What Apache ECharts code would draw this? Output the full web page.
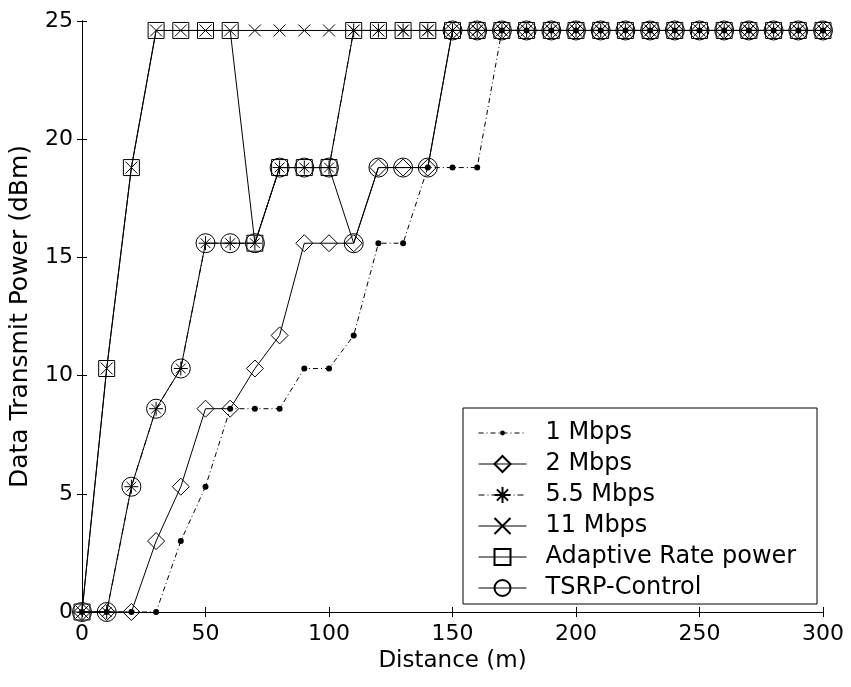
<!DOCTYPE html>
<html>
<head>
<meta charset="utf-8">
<script src="https://cdn.jsdelivr.net/npm/echarts@6/dist/echarts.min.js"></script>
<style>
  html, body { margin: 0; padding: 0; background: #fff; }
  #chart { width: 851px; height: 687px; }
</style>
</head>
<body>
<div id="chart"></div>
<script>
// Distance from the sender (m)
const distance = [0, 10, 20, 30, 40, 50, 60, 70, 80, 90, 100, 110, 120, 130, 140, 150,
                  160, 170, 180, 190, 200, 210, 220, 230, 240, 250, 260, 270, 280, 290, 300];

// Data transmit power (dBm) per scheme
const rate1 = [0, 0, 0, 0, 3.0, 5.3, 8.6, 8.6, 8.6, 10.3, 10.3, 11.7, 15.6, 15.6, 18.8, 18.8,
               18.8, 24.6, 24.6, 24.6, 24.6, 24.6, 24.6, 24.6, 24.6, 24.6, 24.6, 24.6, 24.6, 24.6, 24.6];
const rate2 = [0, 0, 0, 3.0, 5.3, 8.6, 8.6, 10.3, 11.7, 15.6, 15.6, 15.6, 18.8, 18.8, 18.8, 24.6,
               24.6, 24.6, 24.6, 24.6, 24.6, 24.6, 24.6, 24.6, 24.6, 24.6, 24.6, 24.6, 24.6, 24.6, 24.6];
const rate55 = [0, 0, 5.3, 8.6, 10.3, 15.6, 15.6, 15.6, 18.8, 18.8, 18.8, 24.6, 24.6, 24.6, 24.6, 24.6,
                24.6, 24.6, 24.6, 24.6, 24.6, 24.6, 24.6, 24.6, 24.6, 24.6, 24.6, 24.6, 24.6, 24.6, 24.6];
const rate11 = [0, 10.3, 18.8, 24.6, 24.6, 24.6, 24.6, 24.6, 24.6, 24.6, 24.6, 24.6, 24.6, 24.6, 24.6, 24.6,
                24.6, 24.6, 24.6, 24.6, 24.6, 24.6, 24.6, 24.6, 24.6, 24.6, 24.6, 24.6, 24.6, 24.6, 24.6];
const adaptive = [0, 10.3, 18.8, 24.6, 24.6, 24.6, 24.6, 15.6, 18.8, 18.8, 18.8, 24.6, 24.6, 24.6, 24.6, 24.6,
                  24.6, 24.6, 24.6, 24.6, 24.6, 24.6, 24.6, 24.6, 24.6, 24.6, 24.6, 24.6, 24.6, 24.6, 24.6];
const tsrp = [0, 0, 5.3, 8.6, 10.3, 15.6, 15.6, 15.6, 18.8, 18.8, 18.8, 15.6, 18.8, 18.8, 18.8, 24.6,
              24.6, 24.6, 24.6, 24.6, 24.6, 24.6, 24.6, 24.6, 24.6, 24.6, 24.6, 24.6, 24.6, 24.6, 24.6];

const seriesNames = ['1 Mbps', '2 Mbps', '5.5 Mbps', '11 Mbps', 'Adaptive Rate power', 'TSRP-Control'];
const xTicks = [0, 50, 100, 150, 200, 250, 300];
const yTicks = [0, 5, 10, 15, 20, 25];

const FONT = 'DejaVu Sans, Liberation Sans, Arial, sans-serif';
const INK = '#000';

// Marker shapes; the dot keeps an empty frame so it stays small in the legend
const DOT = 'path://M-10,-10M10,10M3,0A3,3,0,1,1,-3,0A3,3,0,1,1,3,0Z';
const DIAMOND = 'path://M0,-10L10,0L0,10L-10,0Z';
const ASTERISK = 'path://M0,-10L0,10M-10,0L10,0M-7,-7L7,7M-7,7L7,-7';
const CROSS = 'path://M-10,-10L10,10M-10,10L10,-10';

function pairs(ys) { return distance.map((d, i) => [d, ys[i]]); }

function makeSeries(name, ys, symbol, size, dash, filled) {
  return {
    name: name,
    type: 'line',
    data: pairs(ys),
    symbol: symbol,
    symbolSize: size,
    showAllSymbol: true,
    animation: false,
    lineStyle: { color: INK, width: 1, type: dash },
    itemStyle: {
      color: filled ? INK : 'rgba(0,0,0,0)',
      borderColor: INK,
      borderWidth: filled ? 0 : 1
    },
    emphasis: { disabled: true }
  };
}

const chart = echarts.init(document.getElementById('chart'), null, { renderer: 'canvas' });

const axisCommon = {
  type: 'value',
  axisLine: { show: true, lineStyle: { color: INK, width: 1 } },
  axisTick: { show: true, inside: true, length: 5, lineStyle: { color: INK } },
  splitLine: { show: false }
};

chart.setOption({
  backgroundColor: '#fff',
  animation: false,
  textStyle: { fontFamily: FONT },
  grid: { left: 81, right: 28, top: 21, bottom: 75 },
  xAxis: [
    Object.assign({}, axisCommon, {
      min: xTicks[0], max: xTicks[xTicks.length - 1], interval: xTicks[1] - xTicks[0],
      position: 'bottom',
      name: 'Distance (m)', nameLocation: 'middle', nameGap: 38,
      nameTextStyle: { color: INK, fontSize: 23, fontFamily: FONT },
      axisLabel: { color: INK, fontSize: 22, fontFamily: FONT, margin: 11 }
    }),
    Object.assign({}, axisCommon, {
      min: xTicks[0], max: xTicks[xTicks.length - 1], interval: xTicks[1] - xTicks[0],
      position: 'top', axisLabel: { show: false }
    })
  ],
  yAxis: [
    Object.assign({}, axisCommon, {
      min: yTicks[0], max: yTicks[yTicks.length - 1], interval: yTicks[1] - yTicks[0],
      position: 'left',
      name: 'Data Transmit Power (dBm)', nameLocation: 'middle', nameGap: 49,
      nameTextStyle: { color: INK, fontSize: 25, fontFamily: FONT },
      axisLabel: { color: INK, fontSize: 22, fontFamily: FONT, margin: 9 }
    }),
    Object.assign({}, axisCommon, {
      min: yTicks[0], max: yTicks[yTicks.length - 1], interval: yTicks[1] - yTicks[0],
      position: 'right', axisLabel: { show: false }
    })
  ],
  legend: {
    orient: 'vertical',
    left: 478, top: 421,
    itemWidth: 48, itemHeight: 20, itemGap: 7,
    padding: 0,
    z: 10,
    lineStyle: { width: 1 },
    textStyle: { color: INK, fontSize: 24, fontFamily: FONT, padding: [0, 0, 0, 14] },
    data: seriesNames
  },
  graphic: [{
    type: 'rect',
    shape: { x: 463, y: 408, width: 354, height: 196 },
    style: { fill: '#fff', stroke: INK, lineWidth: 1 },
    z: 3
  }],
  series: [
    makeSeries(seriesNames[0], rate1, DOT, 20, [5, 3, 1, 3], true),
    makeSeries(seriesNames[1], rate2, DIAMOND, 17, 'solid', false),
    makeSeries(seriesNames[2], rate55, ASTERISK, 14, [6, 3, 1, 3], false),
    makeSeries(seriesNames[3], rate11, CROSS, 12, 'solid', false),
    makeSeries(seriesNames[4], adaptive, 'rect', 16, 'solid', false),
    makeSeries(seriesNames[5], tsrp, 'circle', 19, 'solid', false)
  ]
});
</script>
</body>
</html>
